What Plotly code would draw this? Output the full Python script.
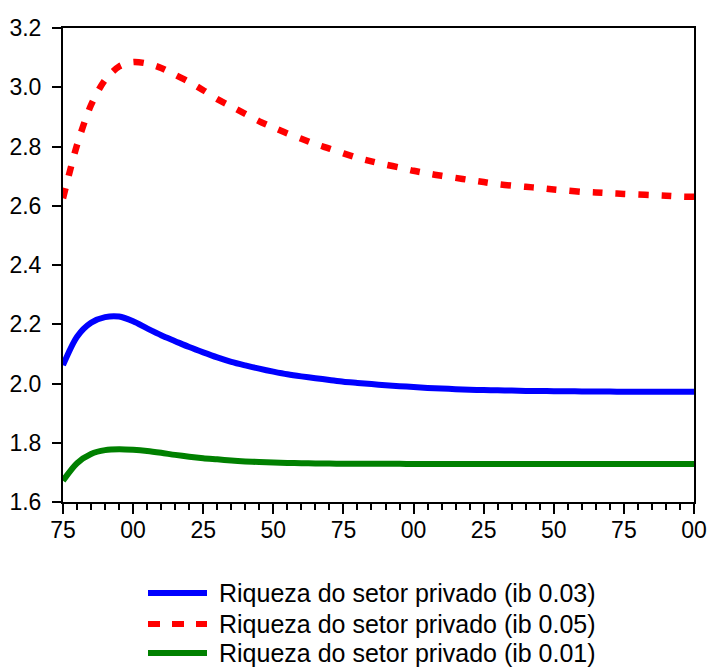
import plotly.graph_objects as go

# Simulated private-sector wealth under three ib parameter values (every 5 years)
years = list(range(1975, 2201, 5))

riqueza_ib003 = [
    2.062, 2.158, 2.205, 2.224, 2.226, 2.210, 2.186, 2.163, 2.143, 2.123,
    2.105, 2.088, 2.073, 2.061, 2.050, 2.040, 2.031, 2.024, 2.018, 2.012,
    2.006, 2.002, 1.998, 1.994, 1.991, 1.988, 1.985, 1.983, 1.981, 1.979,
    1.978, 1.977, 1.976, 1.975, 1.975, 1.974, 1.974, 1.973, 1.973, 1.973,
    1.972, 1.972, 1.972, 1.972, 1.972, 1.972,
]

riqueza_ib005 = [
    2.625, 2.805, 2.940, 3.025, 3.070, 3.085, 3.080, 3.065, 3.042, 3.018,
    2.990, 2.960, 2.935, 2.910, 2.885, 2.864, 2.844, 2.826, 2.808, 2.793,
    2.777, 2.762, 2.750, 2.739, 2.729, 2.718, 2.709, 2.701, 2.694, 2.687,
    2.680, 2.673, 2.668, 2.664, 2.660, 2.655, 2.651, 2.647, 2.645, 2.642,
    2.640, 2.638, 2.636, 2.634, 2.631, 2.630,
]

riqueza_ib001 = [
    1.672, 1.731, 1.762, 1.775, 1.778, 1.776, 1.772, 1.766, 1.759, 1.753,
    1.748, 1.744, 1.740, 1.737, 1.735, 1.733, 1.732, 1.731, 1.730, 1.730,
    1.729, 1.729, 1.729, 1.729, 1.729, 1.728, 1.728, 1.728, 1.728, 1.728,
    1.728, 1.728, 1.728, 1.728, 1.728, 1.728, 1.728, 1.728, 1.728, 1.728,
    1.728, 1.728, 1.728, 1.728, 1.728, 1.728,
]

legend_labels = [
    "Riqueza do setor privado (ib 0.03)",
    "Riqueza do setor privado (ib 0.05)",
    "Riqueza do setor privado (ib 0.01)",
]

x_tick_years = list(range(1975, 2201, 25))
x_tick_text = ["75", "00", "25", "50", "75", "00", "25", "50", "75", "00"]
y_tick_vals = [1.6, 1.8, 2.0, 2.2, 2.4, 2.6, 2.8, 3.0, 3.2]

FONT = "Liberation Sans, Arial, Helvetica, sans-serif"
W, H = 709, 667
ML, MR, MT, MB = 63, 15, 28, 165
PW, PH = W - ML - MR, H - MT - MB

styles = [
    dict(color="#0000FF", width=6, dash="solid"),
    dict(color="#FF0000", width=6.5, dash="10px,13px"),
    dict(color="#008000", width=6, dash="solid"),
]
series = [riqueza_ib003, riqueza_ib005, riqueza_ib001]

fig = go.Figure()
for vals, st, name in zip(series, styles, legend_labels):
    fig.add_trace(go.Scatter(
        x=years, y=vals, mode="lines", name=name, showlegend=False,
        line=dict(color=st["color"], width=st["width"], dash=st["dash"],
                  shape="spline", smoothing=0.8),
    ))


def px_to_paper_x(px):
    return (px - ML) / PW


def px_to_paper_y(py):
    return (H - MB - py) / PH


# Legend drawn below the plot: long line samples followed by labels
legend_rows = [593, 624, 653]
for row_y, st, name in zip(legend_rows, styles, legend_labels):
    fig.add_shape(
        type="line", xref="paper", yref="paper",
        x0=px_to_paper_x(148), x1=px_to_paper_x(207),
        y0=px_to_paper_y(row_y), y1=px_to_paper_y(row_y),
        line=dict(color=st["color"], width=6,
                  dash="12px,12px" if st["dash"] != "solid" else "solid"),
    )
    fig.add_annotation(
        xref="paper", yref="paper", x=px_to_paper_x(217), y=px_to_paper_y(row_y),
        xanchor="left", yanchor="middle", showarrow=False, text=name,
        font=dict(family=FONT, size=25, color="black"),
    )

fig.update_layout(
    width=W, height=H,
    margin=dict(l=ML, r=MR, t=MT, b=MB, autoexpand=False),
    paper_bgcolor="white", plot_bgcolor="white",
    font=dict(family=FONT, size=22, color="black"),
    showlegend=False,
)

fig.update_xaxes(
    range=[1975, 2200], showgrid=False, zeroline=False, automargin=False,
    showline=True, linecolor="black", linewidth=2, mirror=True,
    tickmode="array", tickvals=x_tick_years, ticktext=x_tick_text,
    ticks="outside", ticklen=10, tickwidth=1.5, tickcolor="black",
    ticklabelstandoff=-4,
    tickfont=dict(family=FONT, size=23, color="black"),
    minor=dict(ticks="outside", ticklen=6, tickwidth=1.5, tickcolor="black",
               dtick=5, showgrid=False),
)
fig.update_yaxes(
    range=[1.6, 3.2], showgrid=False, zeroline=False, automargin=False,
    showline=True, linecolor="black", linewidth=2, mirror=True,
    tickmode="array", tickvals=y_tick_vals,
    ticktext=[f"{v:.1f}" for v in y_tick_vals],
    ticks="outside", ticklen=9, tickwidth=1.5, tickcolor="black",
    ticklabelstandoff=6,
    tickfont=dict(family=FONT, size=23, color="black"),
)

fig.write_html("out.html")
